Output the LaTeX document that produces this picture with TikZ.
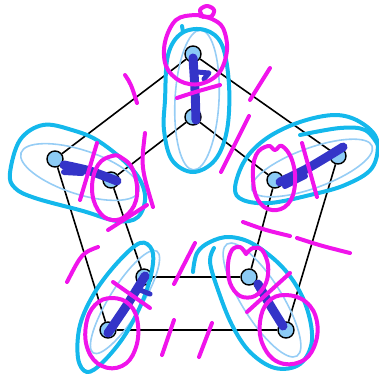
\documentclass[tikz,border=0pt]{standalone}
\definecolor{nodeblue}{RGB}{140,203,245}
\definecolor{penCyan}{RGB}{20,184,236}
\definecolor{penLight}{RGB}{150,205,245}
\definecolor{penBlue}{RGB}{52,52,200}
\definecolor{penMag}{RGB}{240,20,235}
\begin{document}
\begin{tikzpicture}[x=1pt,y=-1pt,
 vtx/.style={circle,draw=black,line width=1.4pt,fill=nodeblue,minimum size=16pt,inner sep=0pt},
 edge/.style={draw=black,line width=1.6pt},
 cyanpen/.style={draw=penCyan,line width=4pt,line cap=round,line join=round},
 thinpen/.style={draw=penLight,line width=1.6pt},
 bluepen/.style={draw=penBlue,line width=9pt,line cap=round,line join=round},
 magpen/.style={draw=penMag,line width=4pt,line cap=round,line join=round}]
\useasboundingbox (0,0) rectangle (379,376);
% vertices
\node[vtx] (o1) at (193,54) {};
\node[vtx] (i1) at (193,117) {};
\node[vtx] (o2) at (338,156) {};
\node[vtx] (i2) at (275,180) {};
\node[vtx] (o3) at (286,330) {};
\node[vtx] (i3) at (249,277) {};
\node[vtx] (o4) at (108,330) {};
\node[vtx] (i4) at (144,277) {};
\node[vtx] (o5) at (55,159) {};
\node[vtx] (i5) at (111,180) {};
% edges
\draw[edge] (o1) -- (o2); \draw[edge] (o2) -- (o3); \draw[edge] (o3) -- (o4);
\draw[edge] (o4) -- (o5); \draw[edge] (o5) -- (o1);
\draw[edge] (i1) -- (i2); \draw[edge] (i2) -- (i3); \draw[edge] (i3) -- (i4);
\draw[edge] (i4) -- (i5); \draw[edge] (i5) -- (i1);
\draw[edge] (o1) -- (i1); \draw[edge] (o2) -- (i2); \draw[edge] (o3) -- (i3);
\draw[edge] (o4) -- (i4); \draw[edge] (o5) -- (i5);
% thin light ellipses
\draw[thinpen,rotate around={-3:(197,100)}] (197,100) ellipse [x radius=22, y radius=70];
\draw[thinpen,rotate around={-18:(80,172)}] (80,172) ellipse [x radius=62, y radius=22];
\draw[thinpen,rotate around={20:(312,168)}] (312,168) ellipse [x radius=64, y radius=20];
\draw[thinpen,rotate around={58:(125,302)}] (125,302) ellipse [x radius=60, y radius=16];
\draw[thinpen,rotate around={-58:(262,300)}] (262,300) ellipse [x radius=66, y radius=20];
% thick cyan loops
\draw[cyanpen] plot[smooth cycle,tension=0.6] coordinates {(165,100)(168,55)(182,33)(205,30)(222,45)(229,85)(227,130)(215,160)(193,172)(172,160)(164,130)};
\draw[cyanpen] (182,26) -- (183,32);
\draw[cyanpen] plot[smooth cycle,tension=0.6] coordinates {(10,173)(20,140)(43,125)(72,130)(100,142)(133,170)(145,195)(138,217)(117,221)(83,211)(35,198)(15,188)};
\draw[cyanpen] plot[smooth cycle,tension=0.6] coordinates {(235,188)(245,160)(267,138)(300,122)(335,115)(360,122)(377,140)(372,168)(345,185)(310,195)(270,203)(243,200)};
\draw[cyanpen] plot[smooth,tension=0.6] coordinates {(300,135)(340,128)(365,130)(378,145)};
\draw[cyanpen] plot[smooth cycle,tension=0.6] coordinates {(140,243)(152,250)(152,270)(143,300)(125,335)(103,362)(87,372)(78,358)(80,325)(95,292)(118,262)};
\draw[cyanpen] plot[smooth,tension=0.6] coordinates {(193,272)(197,253)(210,242)(230,237)(255,245)(285,270)(305,303)(312,340)(300,364)(275,368)(250,352)(232,325)(218,290)(210,262)(214,248)};
% dark blue strokes
\draw[bluepen] plot[smooth] coordinates {(193,58)(195,90)(196,120)};
\draw[bluepen,line width=5pt] (197,72) -- (209,73) -- (204,79);
\draw[bluepen] plot[smooth] coordinates {(64,165)(90,171)(117,181)};
\draw[bluepen,line width=6pt] (64,172) -- (82,173);
\draw[bluepen] plot[smooth] coordinates {(280,182)(310,167)(343,147)};
\draw[bluepen,line width=6pt] (285,186) -- (305,176);
\draw[bluepen] plot[smooth] coordinates {(108,333)(127,305)(145,276)};
\draw[bluepen,line width=5pt] (140,290) -- (150,294);
\draw[bluepen] plot[smooth] coordinates {(258,284)(270,305)(283,326)};
% magenta marks
\draw[magpen] plot[smooth,tension=0.6] coordinates {(203,17)(200,10)(207,6)(214,10)(210,17)(195,15)(176,20)(165,42)(166,66)(180,81)(200,84)(219,73)(227,50)(223,28)(212,19)(200,16)};
\draw[magpen] (177,98) .. controls (195,92) .. (220,85);
\draw[magpen] (125,75) .. controls (131,84) .. (137,103);
\draw[magpen] (270,68) -- (250,100);
\draw[magpen] (249,116) -- (221,172);
\draw[magpen] plot[smooth cycle,tension=0.7] coordinates {(112,156)(98,165)(92,188)(98,210)(112,220)(128,214)(137,195)(133,170)(122,158)};
\draw[magpen] (97,143) -- (80,200);
\draw[magpen] (145,133) .. controls (141,167) .. (153,207);
\draw[magpen] (108,230) -- (147,205);
\draw[magpen] plot[smooth cycle,tension=0.7] coordinates {(268,146)(256,155)(253,178)(258,200)(272,210)(288,204)(295,184)(292,160)(282,146)(275,150)};
\draw[magpen] (302,143) -- (317,197);
\draw[magpen] (243,222) .. controls (265,230) .. (290,236);
\draw[magpen] (297,238) .. controls (322,246) .. (350,253);
\draw[magpen] (98,247) .. controls (82,253) .. (67,282);
\draw[magpen] plot[smooth cycle,tension=0.7] coordinates {(112,298)(95,305)(86,325)(88,350)(102,366)(122,366)(135,350)(138,325)(130,305)};
\draw[magpen] (113,282) -- (150,308);
\draw[magpen] (195,243) -- (174,284);
\draw[magpen] (174,320) -- (162,355);
\draw[magpen] (212,323) -- (199,357);
\draw[magpen] plot[smooth,tension=0.6] coordinates {(246,254)(240,247)(232,250)(228,264)(230,283)(240,296)(255,296)(266,283)(268,265)(262,250)(253,248)(246,254)};
\draw[magpen] plot[smooth cycle,tension=0.7] coordinates {(285,295)(268,302)(260,322)(263,345)(278,362)(300,362)(314,347)(317,322)(306,302)};
\draw[magpen] (290,273) -- (247,312);
\end{tikzpicture}
\end{document}
